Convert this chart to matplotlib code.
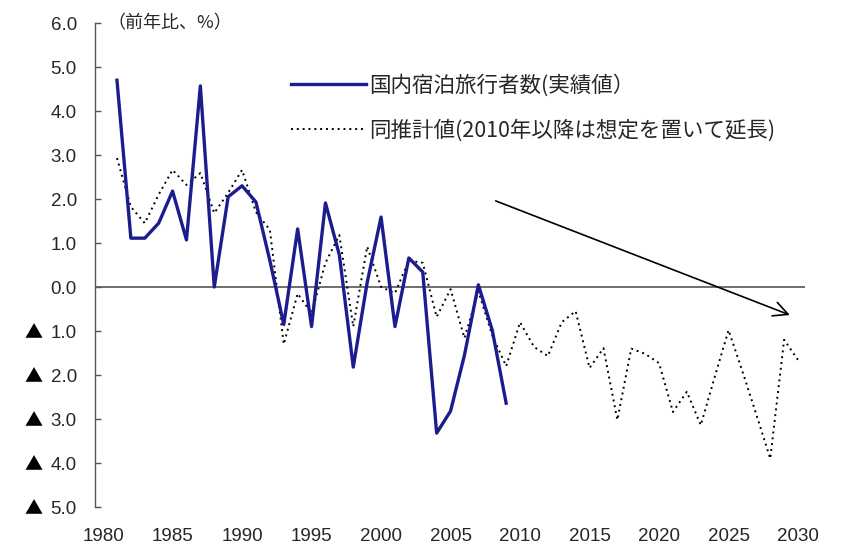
import matplotlib
matplotlib.use("Agg")
import matplotlib.pyplot as plt
from matplotlib.lines import Line2D
from matplotlib.transforms import blended_transform_factory

plt.rcParams['font.family'] = ['Liberation Sans', 'Noto Sans CJK JP', 'DejaVu Sans']

# ==============================
# DATA
# ==============================
years_actual = list(range(1981, 2010))
actual = [4.70, 1.11, 1.11, 1.45, 2.18, 1.07, 4.57, 0.00, 2.05, 2.30,
          1.93, 0.60, -0.85, 1.32, -0.90, 1.91, 0.73, -1.82, 0.10, 1.59,
          -0.90, 0.66, 0.34, -3.32, -2.82, -1.55, 0.05, -0.98, -2.64]

years_est = list(range(1981, 2031))
estimate = [2.93, 1.82, 1.45, 2.10, 2.66, 2.32, 2.59, 1.68, 2.14, 2.66,
            1.70, 1.30, -1.30, -0.15, -0.60, 0.55, 1.18, -0.90, 0.92, 0.00,
            -0.14, 0.60, 0.55, -0.68, -0.05, -1.16, -0.10, -1.10, -1.80, -0.80,
            -1.36, -1.57, -0.80, -0.55, -1.84, -1.39, -3.02, -1.40, -1.52, -1.73,
            -2.84, -2.38, -3.14, -2.05, -0.98, -1.92, -2.90, -3.90, -1.20, -1.66]

x_ticks = list(range(1980, 2031, 5))
y_ticks = [6, 5, 4, 3, 2, 1, 0, -1, -2, -3, -4, -5]
y_labels = ["6.0", "5.0", "4.0", "3.0", "2.0", "1.0", "0.0",
            "1.0", "2.0", "3.0", "4.0", "5.0"]
neg_mark = "▲"

label_actual = "国内宿泊旅行者数(実績値）"
label_est = "同推計値(2010年以降は想定を置いて延長)"

# ==============================
# PLOT
# ==============================
W, H = 841, 549
fig = plt.figure(figsize=(W / 100, H / 100), dpi=100)
ax = fig.add_axes([95 / W, 1 - 507 / H, (805 - 95) / W, (507 - 23) / H])

navy = "#1c1c8f"
txt = "#262626"
cjk = ['Noto Sans CJK JP', 'DejaVu Sans']

ax.axhline(0, color="#555555", lw=1.2, zorder=1)
ax.plot(years_est, estimate, color="black", lw=1.4, linestyle=(0, (1, 2.0)), zorder=2)
ax.plot(years_actual, actual, color=navy, lw=2.4, zorder=3)

ax.set_xlim(1979.42, 2030.5)
ax.set_ylim(-5, 6)

for s in ["top", "right", "bottom"]:
    ax.spines[s].set_visible(False)
ax.spines["left"].set_color("#555555")
ax.spines["left"].set_linewidth(1.0)

ax.set_yticks(y_ticks)
ax.set_yticklabels(y_labels, fontsize=13.5, color=txt)
ax.tick_params(axis="y", direction="in", length=4, width=1.0, color="#555555", pad=13)

# triangle marks for negative values
trans = blended_transform_factory(fig.transFigure, ax.transData)
for v in y_ticks:
    if v < 0:
        ax.text(33 / W, v, neg_mark, transform=trans, ha="center", va="center_baseline",
                fontsize=13, color="black", family=cjk)

ax.set_xticks(x_ticks)
ax.set_xticklabels([str(x) for x in x_ticks], fontsize=13.5, color=txt)
ax.tick_params(axis="x", length=0, pad=15)

ax.text((107 - 95) / (805 - 95), 1.0, "（前年比、%）", transform=ax.transAxes,
        fontsize=13, color=txt, va="center", ha="left", family=cjk)

# trend arrow
ax.annotate("", xy=(2029.6, -0.66), xytext=(2008.06, 1.98),
            arrowprops=dict(arrowstyle="->", lw=1.2, color="black", mutation_scale=26))

# legend
handles = [Line2D([], [], color=navy, lw=2.4),
           Line2D([], [], color="black", lw=1.4, linestyle=(0, (1, 2.0)))]
leg = fig.legend(handles, [label_actual, label_est], loc="upper left",
                 bbox_to_anchor=(280 / W, 1 - 63 / H), frameon=False,
                 handlelength=3.5, handletextpad=0.15, labelspacing=1.05,
                 borderpad=0, prop={'family': cjk, 'size': 15.5})
for t in leg.get_texts():
    t.set_color(txt)

fig.savefig("out.png", dpi=100)
